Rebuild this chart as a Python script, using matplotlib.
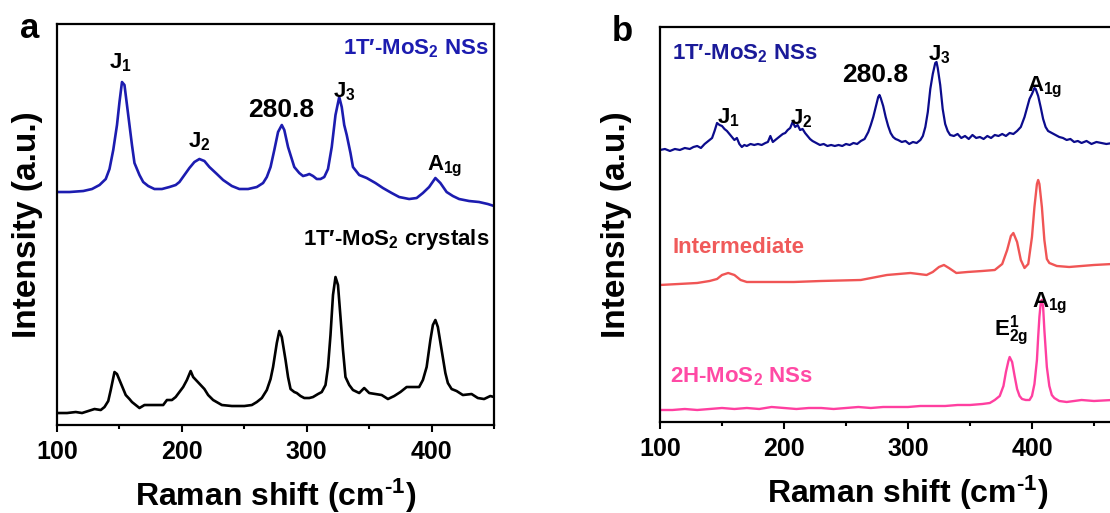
import matplotlib
matplotlib.use('Agg')
import matplotlib.pyplot as plt
from matplotlib.ticker import MultipleLocator, FixedLocator

plt.rcParams['font.family'] = ['Liberation Sans', 'DejaVu Sans']
plt.rcParams['font.weight'] = 'bold'
plt.rcParams['mathtext.default'] = 'regular'

# ---- panel a data (intensity in arbitrary units, stacked) ----
a_ns_x = [100, 110, 121, 128, 134, 139, 142, 145, 148, 150, 152, 154, 157, 160, 162, 166, 169, 173, 178,
          184, 190, 195, 198, 202, 206, 210, 214, 218, 222, 228, 233, 240, 246, 253, 260, 265, 268, 271,
          274, 277, 280, 282, 285, 288, 290, 294, 297, 300, 302, 305, 308, 311, 314, 317, 320, 323, 326,
          328, 330, 332, 335, 337, 342, 348, 355, 361, 368, 374, 382, 388, 393, 398, 403, 407, 412, 417,
          422, 430, 438, 445, 450]
a_ns_y = [233, 233, 234, 236, 240, 246, 256, 275, 300, 323, 343, 340, 310, 280, 262, 250, 243, 239, 236,
          236, 238, 240, 243, 250, 257, 263, 266, 264, 258, 251, 245, 239, 236, 236, 238, 242, 248, 258,
          275, 293, 300, 295, 278, 266, 258, 252, 249, 250, 251, 249, 246, 246, 248, 256, 278, 310, 328,
          318, 300, 290, 272, 258, 250, 247, 242, 237, 232, 228, 226, 227, 232, 238, 247, 242, 233, 229,
          226, 224, 223, 221, 219]

a_cr_x = [100, 108, 115, 120, 125, 130, 135, 138, 141, 143, 146, 148, 150, 153, 155, 158, 160, 163, 166,
          170, 178, 185, 188, 192, 195, 198, 201, 204, 207, 209, 212, 215, 218, 221, 225, 232, 240, 250,
          256, 260, 264, 268, 271, 273, 276, 278, 280, 283, 285, 287, 290, 292, 295, 298, 302, 305, 309,
          312, 315, 317, 319, 321, 323, 325, 327, 329, 331, 334, 337, 342, 346, 350, 355, 360, 365, 370,
          375, 380, 386, 390, 393, 396, 399, 401, 403, 405, 408, 411, 413, 416, 420, 425, 432, 437, 442,
          447, 450]
a_cr_y = [12, 12, 13, 12, 14, 16, 15, 18, 24, 35, 53, 51, 45, 36, 30, 26, 23, 20, 17, 20, 20, 20, 25, 25,
          28, 33, 38, 45, 54, 48, 44, 40, 36, 30, 25, 20, 19, 19, 20, 23, 27, 35, 46, 58, 82, 94, 88, 65,
          48, 36, 33, 32, 29, 27, 27, 28, 31, 33, 40, 58, 90, 130, 148, 140, 108, 75, 48, 40, 35, 32, 37,
          32, 31, 30, 26, 29, 33, 38, 38, 38, 45, 58, 85, 100, 105, 98, 75, 52, 42, 36, 34, 30, 31, 27,
          26, 29, 28]

# ---- panel b data ----
b_ns_x = [100, 104, 108, 112, 116, 120, 124, 127, 130, 133, 136, 139, 142, 144, 146, 148, 150, 152, 154,
          156, 158, 160, 162, 164, 166, 168, 170, 173, 176, 179, 182, 185, 187, 189, 191, 193, 195, 197,
          199, 201, 203, 205, 207, 209, 211, 213, 215, 217, 219, 221, 223, 226, 229, 232, 235, 238, 241,
          244, 247, 250, 253, 256, 259, 262, 265, 268, 270, 272, 274, 276, 277, 278, 280, 282, 284, 286,
          288, 290, 292, 295, 298, 301, 304, 307, 310, 312, 314, 316, 318, 320, 322, 323, 324, 326, 328,
          330, 332, 334, 337, 340, 343, 346, 349, 352, 355, 358, 361, 364, 367, 370, 373, 376, 379, 382,
          385, 388, 391, 394, 396, 398, 400, 402, 403, 405, 407, 409, 411, 413, 416, 419, 422, 425, 428,
          431, 434, 437, 440, 444, 448, 452, 456, 460, 465]
b_ns_y = [272, 273, 271, 273, 272, 274, 273, 275, 276, 274, 278, 281, 284, 291, 299, 297, 296, 293, 291,
          288, 285, 282, 284, 278, 275, 277, 276, 278, 277, 278, 277, 279, 280, 286, 280, 282, 284, 286,
          288, 289, 292, 294, 300, 295, 297, 292, 293, 289, 286, 283, 281, 279, 277, 278, 276, 277, 276,
          277, 276, 278, 277, 279, 278, 281, 283, 290, 297, 305, 315, 325, 327, 324, 316, 305, 296, 289,
          285, 283, 282, 280, 281, 278, 280, 279, 282, 286, 295, 310, 333, 348, 359, 360, 354, 337, 313,
          298, 291, 287, 286, 288, 284, 286, 283, 287, 284, 285, 283, 286, 284, 287, 286, 288, 286, 289,
          288, 291, 295, 305, 314, 323, 328, 334, 333, 326, 315, 303, 295, 291, 289, 287, 285, 284, 282,
          283, 280, 281, 279, 281, 278, 280, 279, 278, 279]

b_int_x = [100, 115, 130, 140, 146, 150, 155, 160, 165, 170, 185, 208, 230, 262, 283, 302, 315, 320, 325,
           329, 333, 339, 348, 360, 370, 376, 380, 383, 385, 388, 391, 394, 397, 400, 402, 404, 405, 406,
           408, 410, 412, 414, 416, 420, 430, 440, 450, 465]
b_int_y = [137, 138, 139, 141, 143, 147, 149, 147, 142, 140, 140, 140, 141, 142, 147, 149, 147, 150, 155,
           157, 154, 149, 150, 151, 152, 158, 172, 186, 189, 180, 162, 154, 158, 185, 215, 238, 242, 238,
           215, 182, 163, 159, 158, 156, 155, 156, 157, 158]

b_2h_x = [100, 110, 120, 130, 140, 150, 160, 170, 180, 190, 200, 210, 220, 230, 240, 250, 260, 270, 280,
          290, 300, 310, 320, 330, 340, 350, 360, 366, 370, 374, 377, 379, 381, 382, 384, 386, 388, 390,
          392, 395, 398, 400, 402, 404, 405, 406, 407, 408, 409, 410, 412, 414, 416, 418, 422, 428, 434,
          440, 450, 465]
b_2h_y = [12, 12, 13, 12, 13, 14, 13, 14, 13, 15, 14, 13, 14, 14, 13, 14, 15, 14, 15, 15, 15, 16, 16, 16,
          17, 17, 18, 19, 22, 26, 36, 50, 61, 65, 60, 46, 33, 26, 23, 22, 22, 26, 38, 62, 85, 105, 118,
          122, 115, 92, 55, 36, 27, 24, 21, 20, 21, 22, 21, 22]

fig = plt.figure(figsize=(11.1, 5.13), dpi=100)
ax1 = fig.add_axes([0.0514, 0.1715, 0.3937, 0.7817])
ax2 = fig.add_axes([0.5946, 0.1774, 0.4468, 0.770])

ax1.plot(a_ns_x, a_ns_y, color='#1c1cb0', lw=1.9)
ax1.plot(a_cr_x, a_cr_y, color='black', lw=1.9)
ax1.set_xlim(100, 450)
ax1.set_ylim(0, 401)

ax2.plot(b_ns_x, b_ns_y, color='#0c0c8c', lw=1.6)
ax2.plot(b_int_x, b_int_y, color='#f05555', lw=1.7)
ax2.plot(b_2h_x, b_2h_y, color='#ff3fa0', lw=1.7)
ax2.set_xlim(100, 500)
ax2.set_ylim(0, 395)

xlab = 'Raman shift (cm$^{\u2010' + '1}$)'
for ax, lp in ((ax1, 10), (ax2, 20)):
    ax.set_yticks([])
    ax.xaxis.set_major_locator(FixedLocator([100, 200, 300, 400]))
    ax.xaxis.set_minor_locator(MultipleLocator(50))
    ax.tick_params(axis='x', which='major', direction='out', length=5, width=1.5, labelsize=18, pad=6)
    ax.tick_params(axis='x', which='minor', direction='out', length=3, width=1.5)
    for s in ax.spines.values():
        s.set_linewidth(1.6)
    for lab in ax.get_xticklabels():
        lab.set_fontweight('bold')
    ax.set_xlabel(xlab, fontsize=23, fontweight='bold', labelpad=9)
    ax.set_ylabel('Intensity (a.u.)', fontsize=24, fontweight='bold', labelpad=lp)

fs = 16
# panel a labels
ax1.text(142, 357, 'J$_1$', fontsize=fs, fontweight='bold')
ax1.text(205, 278, 'J$_2$', fontsize=fs, fontweight='bold')
ax1.text(253, 308, '280.8', fontsize=19, fontweight='bold')
ax1.text(321, 328, 'J$_3$', fontsize=fs, fontweight='bold')
ax1.text(396, 255, 'A$_{1g}$', fontsize=fs, fontweight='bold')
ax1.text(446, 371, '1T\u2032-MoS$_2$ NSs', fontsize=fs, fontweight='bold', color='#1c1cb0', ha='right')
ax1.text(446, 180, '1T\u2032-MoS$_2$ crystals', fontsize=fs, fontweight='bold', color='black', ha='right')
fig.text(0.018, 0.925, 'a', fontsize=25, fontweight='bold')

# panel b labels
ax2.text(110, 363, '1T\u2032-MoS$_2$ NSs', fontsize=fs, fontweight='bold', color='#1a1a99')
ax2.text(146, 299, 'J$_1$', fontsize=fs, fontweight='bold')
ax2.text(205, 298, 'J$_2$', fontsize=fs, fontweight='bold')
ax2.text(247, 340, '280.8', fontsize=19, fontweight='bold')
ax2.text(316, 362, 'J$_3$', fontsize=fs, fontweight='bold')
ax2.text(396, 331, 'A$_{1g}$', fontsize=fs, fontweight='bold')
ax2.text(110, 169, 'Intermediate', fontsize=fs, fontweight='bold', color='#f05a5a')
ax2.text(108, 40, '2H-MoS$_2$ NSs', fontsize=fs, fontweight='bold', color='#ff4aa5')
ax2.text(369, 86, 'E$_{2g}^{1}$', fontsize=fs, fontweight='bold')
ax2.text(400, 115, 'A$_{1g}$', fontsize=fs, fontweight='bold')
fig.text(0.551, 0.92, 'b', fontsize=25, fontweight='bold')

fig.savefig('out.png', dpi=100)
